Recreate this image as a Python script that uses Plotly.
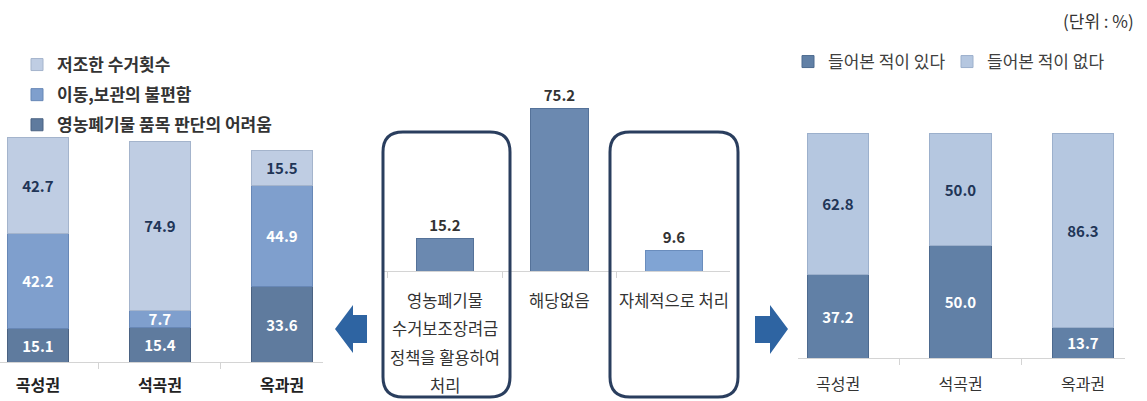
import plotly.graph_objects as go

W, H = 1147, 401

# ---------------- data ----------------
regions = ["곡성권", "석곡권", "옥과권"]

left_series = ["영농폐기물 품목 판단의 어려움", "이동,보관의 불편함", "저조한 수거횟수"]
left_difficulty = [15.1, 15.4, 33.6]
left_inconvenience = [42.2, 7.7, 44.9]
left_low_freq = [42.7, 74.9, 15.5]

mid_categories = ["영농폐기물 수거보조장려금 정책을 활용하여 처리", "해당없음", "자체적으로 처리"]
mid_label_lines = [["영농폐기물", "수거보조장려금", "정책을 활용하여", "처리"], ["해당없음"], ["자체적으로 처리"]]
mid_values = [15.2, 75.2, 9.6]

right_series = ["들어본 적이 있다", "들어본 적이 없다"]
right_heard = [37.2, 50.0, 13.7]
right_not_heard = [62.8, 50.0, 86.3]

unit_text = "(단위 : %)"

# ---------------- helpers ----------------
def px(x):
    return x / W

def py(y):
    return 1 - y / H

FONT = "Noto Sans CJK KR"
C_DARK = "#5f7b9e"
C_MID = "#7f9fcd"
C_LIGHT = "#bfcde3"
C_R_DARK = "#6180a6"
C_R_LIGHT = "#b5c7e0"
NAVY = "#1f3557"

fig = go.Figure()

# ---------------- left stacked chart ----------------
left_vals = [left_difficulty, left_inconvenience, left_low_freq]
left_colors = [C_DARK, C_MID, C_LIGHT]
left_line = ["#4a6282", "#6787b6", "#a4b4cc"]
left_txt = ["white", "white", NAVY]
left_rank = [3, 2, 1]
for i, (name, vals) in enumerate(zip(left_series, left_vals)):
    fig.add_trace(go.Bar(
        x=regions, y=vals, name=name, xaxis="x", yaxis="y",
        marker=dict(color=left_colors[i], line=dict(color=left_line[i], width=1)),
        texttemplate="%{y:.1f}", textposition="inside", insidetextanchor="middle",
        textfont=dict(family=FONT, size=15, color=left_txt[i], weight="bold"),
        legend="legend", legendgroup="L%d" % i, legendrank=left_rank[i], showlegend=True,
        hoverinfo="skip",
    ))

# ---------------- middle chart ----------------
fig.add_trace(go.Bar(
    x=mid_categories, y=mid_values, xaxis="x2", yaxis="y2",
    marker=dict(color=["#6b89b0", "#6b89b0", "#80a4d4"],
                line=dict(color=["#557299", "#557299", "#6a8dbd"], width=1)),
    texttemplate="%{y:.1f}", textposition="outside", cliponaxis=False,
    textfont=dict(family=FONT, size=15, color="#333333", weight="bold"),
    showlegend=False, hoverinfo="skip",
))

# ---------------- right stacked chart ----------------
right_vals = [right_heard, right_not_heard]
right_colors = [C_R_DARK, C_R_LIGHT]
right_line = ["#4d6a8f", "#9cb0cc"]
right_txt = ["white", NAVY]
for i, (name, vals) in enumerate(zip(right_series, right_vals)):
    fig.add_trace(go.Bar(
        x=regions, y=vals, name=name, xaxis="x3", yaxis="y3",
        marker=dict(color=right_colors[i], line=dict(color=right_line[i], width=1)),
        texttemplate="%{y:.1f}", textposition="inside", insidetextanchor="middle",
        textfont=dict(family=FONT, size=15, color=right_txt[i], weight="bold"),
        legend="legend2", showlegend=True, hoverinfo="skip",
    ))

axis_common = dict(
    showgrid=False, zeroline=False, showline=True, linecolor="#d4d4d4", linewidth=1,
    ticks="outside", tickson="boundaries", ticklen=6, tickcolor="#d4d4d4", fixedrange=True,
    automargin=False,
)
yaxis_common = dict(showgrid=False, zeroline=False, showline=False, showticklabels=False,
                    ticks="", fixedrange=True, automargin=False)

fig.update_layout(
    width=W, height=H,
    margin=dict(l=0, r=0, t=0, b=0, autoexpand=False),
    paper_bgcolor="white", plot_bgcolor="white",
    barmode="stack", bargap=0.5,
    font=dict(family=FONT, color="#333333"),
    uniformtext=dict(minsize=15, mode="show"),
    xaxis=dict(domain=[0, px(323)], range=[-0.311, 2.336], anchor="y",
               ticklabelstandoff=9,
               tickfont=dict(family=FONT, size=16, color="#222222", weight="bold"), **axis_common),
    yaxis=dict(domain=[py(362), py(137)], range=[0, 100], anchor="x", **yaxis_common),
    xaxis2=dict(domain=[px(383), px(730)], range=[-0.541, 2.489], anchor="y2",
                showticklabels=False, **axis_common),
    yaxis2=dict(domain=[py(271), py(97.6)], range=[0, 80], anchor="x2", **yaxis_common),
    xaxis3=dict(domain=[px(798), px(1125)], range=[-0.327, 2.343], anchor="y3",
                ticklabelstandoff=12,
                tickfont=dict(family=FONT, size=16, color="#333333"), **axis_common),
    yaxis3=dict(domain=[py(358), py(133)], range=[0, 100], anchor="x3", **yaxis_common),
    legend=dict(x=px(17), y=py(47), xanchor="left", yanchor="top",
                traceorder="grouped", tracegroupgap=5,
                font=dict(family=FONT, size=17, color="#333333", weight="bold"),
                bgcolor="rgba(0,0,0,0)", borderwidth=0),
    legend2=dict(x=px(788), y=py(62), xanchor="left", yanchor="middle",
                 orientation="h", traceorder="normal",
                 entrywidth=114, entrywidthmode="pixels",
                 font=dict(family=FONT, size=17, color="#404040"),
                 bgcolor="rgba(0,0,0,0)", borderwidth=0),
)

# middle category labels (multi-line, wide line spacing)
line_ys = [300, 328, 357, 385]
for cat, lines in zip(mid_categories, mid_label_lines):
    for j, txt in enumerate(lines):
        fig.add_annotation(x=cat, xref="x2", y=py(line_ys[j]), yref="paper",
                           text=txt, showarrow=False, xanchor="center", yanchor="middle",
                           font=dict(family=FONT, size=16.5, color="#333333"))

# unit text
fig.add_annotation(x=px(1136), y=py(20), xref="paper", yref="paper", text=unit_text,
                   showarrow=False, xanchor="right", yanchor="middle",
                   font=dict(family=FONT, size=17, color="#333333"))

# rounded rectangles
def round_rect(x0, y0, x1, y1, r):
    pts = [
        ("M", [(x0 + r, y0)]),
        ("L", [(x1 - r, y0)]),
        ("Q", [(x1, y0), (x1, y0 + r)]),
        ("L", [(x1, y1 - r)]),
        ("Q", [(x1, y1), (x1 - r, y1)]),
        ("L", [(x0 + r, y1)]),
        ("Q", [(x0, y1), (x0, y1 - r)]),
        ("L", [(x0, y0 + r)]),
        ("Q", [(x0, y0), (x0 + r, y0)]),
    ]
    s = ""
    for cmd, ps in pts:
        s += cmd + " ".join("%.5f,%.5f" % (px(a), py(b)) for a, b in ps) + " "
    return s + "Z"

for (x0, x1) in [(383, 510), (610, 738)]:
    fig.add_shape(type="path", xref="paper", yref="paper",
                  path=round_rect(x0, 132, x1, 397, 20),
                  line=dict(color="#2a3e5e", width=3), fillcolor="rgba(0,0,0,0)", layer="above")

# arrows
def poly(points):
    return "M" + " L".join("%.5f,%.5f" % (px(a), py(b)) for a, b in points) + " Z"

left_arrow = [(335, 329), (353, 305), (353, 315), (367, 315), (367, 343), (353, 343), (353, 353)]
right_arrow = [(788, 329), (770, 305), (770, 316), (755, 316), (755, 343), (770, 343), (770, 354)]
for pts in (left_arrow, right_arrow):
    fig.add_shape(type="path", xref="paper", yref="paper", path=poly(pts),
                  line=dict(width=0), fillcolor="#2e64a2")

fig.write_html("out.html",
               config={"displayModeBar": False, "staticPlot": True},
               post_script="document.body.style.margin='0px';document.body.style.overflow='hidden';")
